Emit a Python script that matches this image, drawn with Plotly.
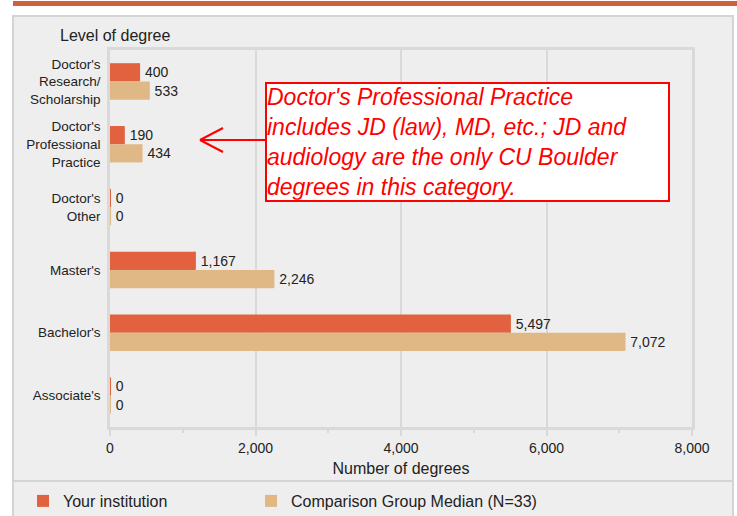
import plotly.graph_objects as go

categories = ["Doctor's<br>Research/<br>Scholarship", "Doctor's<br>Professional<br>Practice",
              "Doctor's<br>Other", "Master's", "Bachelor's", "Associate's"]
your_institution = [400, 190, 0, 1167, 5497, 0]
comparison_median = [533, 434, 0, 2246, 7072, 0]
series_names = ["Your institution", "Comparison Group Median (N=33)"]
note_text = ("Doctor's Professional Practice<br>includes JD (law), MD, etc.; JD and<br>"
             "audiology are the only CU Boulder<br>degrees in this category.")

W, H = 737, 516
L, R, T, B = 110, 692, 50, 427


def px(x):
    return (x - L) / (R - L)


def py(y):
    return (B - y) / (B - T)


ORANGE = "#e26240"
TAN = "#dfb886"
FONT = "Arial, 'Liberation Sans', sans-serif"
GRID = "#d9d9d9"
TXT = "#222222"

fig = go.Figure()
for i, (name, vals, col) in enumerate([(series_names[0], your_institution, ORANGE),
                                       (series_names[1], comparison_median, TAN)]):
    fig.add_trace(go.Bar(
        y=categories, x=vals, orientation="h", name=name,
        legend="legend" if i == 0 else "legend2",
        marker=dict(color=col, line=dict(width=0)),
        text=[f"\u2009{v:,}" for v in vals], textposition="outside",
        textfont=dict(size=14, color=TXT, family=FONT),
        constraintext="none", cliponaxis=False,
        error_x=dict(type="data", array=[0] * len(vals), width=9, thickness=2, color=col),
        hoverinfo="skip",
    ))

leg_common = dict(orientation="h", yanchor="top", y=py(484), xanchor="left",
                  font=dict(size=16, color=TXT, family=FONT), bgcolor="rgba(0,0,0,0)")
fig.update_layout(
    width=W, height=H, autosize=False,
    margin=dict(l=L, r=W - R, t=T, b=H - B, pad=0, autoexpand=False),
    paper_bgcolor="white", plot_bgcolor="#eeeeee",
    barmode="group", bargap=0.42, bargroupgap=0,
    font=dict(family=FONT, size=14, color=TXT),
    showlegend=True,
    legend=dict(x=px(23), **leg_common),
    legend2=dict(x=px(251), **leg_common),
    uniformtext=dict(mode=False),
)
fig.update_xaxes(range=[0, 8000], dtick=2000, tickformat=",", showgrid=True,
                 gridcolor=GRID, gridwidth=2, showline=True, linecolor=GRID, linewidth=2.5,
                 mirror=True, ticks="outside", ticklen=6, tickcolor=GRID, tickwidth=2,
                 minor=dict(dtick=1000, ticks="outside", ticklen=3, tickcolor=GRID, showgrid=False),
                 zeroline=False, tickfont=dict(size=14, color=TXT), ticklabelstandoff=0,
                 title=dict(text="Number of degrees", font=dict(size=16, color=TXT), standoff=9),
                 automargin=False, fixedrange=True)
fig.update_yaxes(autorange="reversed", showgrid=False, showline=True, linecolor=GRID,
                 linewidth=2.5, mirror=True, ticks="", tickfont=dict(size=13.5, color=TXT),
                 ticklabelstandoff=4, layer="below traces", automargin=False, fixedrange=True)

shapes = [
    # panel background
    dict(type="rect", xref="paper", yref="paper", x0=px(13), x1=px(733), y0=py(517), y1=py(16),
         fillcolor="#eeeeee", line=dict(color="#d4d4d4", width=2), layer="below"),
    # top orange band
    dict(type="rect", xref="paper", yref="paper", x0=px(13), x1=px(737), y0=py(6), y1=py(1),
         fillcolor="#d0603b", line=dict(width=0), layer="below"),
    # legend separator
    dict(type="line", xref="paper", yref="paper", x0=px(13), x1=px(733), y0=py(481), y1=py(481),
         line=dict(color="#d4d4d4", width=2), layer="below"),
    # arrow shaft and head
    dict(type="line", xref="paper", yref="paper", x0=px(200), x1=px(265), y0=py(140), y1=py(140),
         line=dict(color="red", width=2)),
    dict(type="line", xref="paper", yref="paper", x0=px(200), x1=px(223), y0=py(140), y1=py(128),
         line=dict(color="red", width=2)),
    dict(type="line", xref="paper", yref="paper", x0=px(200), x1=px(223), y0=py(140), y1=py(152),
         line=dict(color="red", width=2)),
]
fig.update_layout(shapes=shapes)

fig.add_annotation(text="Level of degree", xref="paper", yref="paper", x=px(58), y=py(35),
                   xanchor="left", yanchor="middle", showarrow=False,
                   font=dict(size=16, color=TXT, family=FONT))
fig.add_annotation(text=note_text, xref="paper", yref="paper", x=px(265), y=py(141.5),
                   xanchor="left", yanchor="middle", showarrow=False, align="left",
                   width=401, borderpad=0, borderwidth=2, bordercolor="red", bgcolor="white",
                   font=dict(size=23, color="red", family=FONT, style="italic"))

fig.write_html("out.html", config={"displayModeBar": False},
               post_script="document.body.style.margin='0';document.body.style.overflow='hidden';")
